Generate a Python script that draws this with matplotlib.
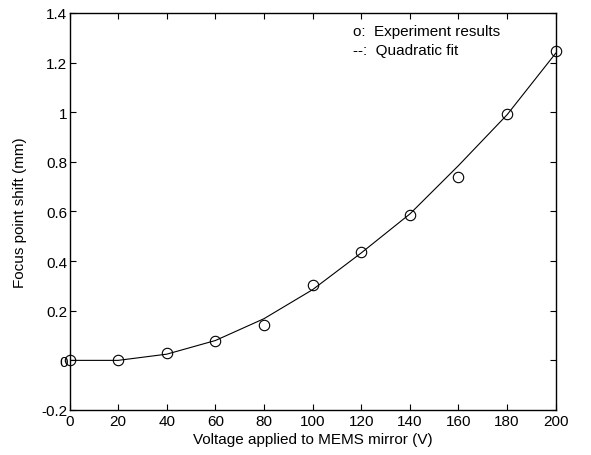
import matplotlib
matplotlib.use('Agg')
import matplotlib.pyplot as plt

plt.rcParams['font.family'] = ['Liberation Sans', 'DejaVu Sans']

voltage = [0, 20, 40, 60, 80, 100, 120, 140, 160, 180, 200]
shift_exp = [0.0, 0.0, 0.028, 0.080, 0.141, 0.305, 0.437, 0.587, 0.739, 0.994, 1.247]
# quadratic fit evaluated at the same voltages
shift_fit = [0.0, 0.0, 0.025, 0.080, 0.168, 0.285, 0.433, 0.590, 0.785, 0.990, 1.238]

x_ticks = [0, 20, 40, 60, 80, 100, 120, 140, 160, 180, 200]
y_ticks = [-0.2, 0, 0.2, 0.4, 0.6, 0.8, 1.0, 1.2, 1.4]
y_tick_labels = ['-0.2', '0', '0.2', '0.4', '0.6', '0.8', '1', '1.2', '1.4']

fig = plt.figure(figsize=(5.91, 4.56), dpi=100)
ax = fig.add_axes([0.1176, 0.0987, 0.8227, 0.8706])

ax.plot(voltage, shift_fit, '-', color='black', linewidth=0.8)
ax.plot(voltage, shift_exp, 'o', markerfacecolor='none', markeredgecolor='black',
        markersize=7.5, markeredgewidth=0.8, clip_on=False)

ax.set_xlim(0, 200)
ax.set_ylim(-0.2, 1.4)
ax.set_xticks(x_ticks)
ax.set_yticks(y_ticks)
ax.set_yticklabels(y_tick_labels)
ax.tick_params(direction='in', top=True, right=True, length=4, width=0.8,
               labelsize=11, pad=3)
ax.tick_params(axis='y', pad=1.5)
for s in ax.spines.values():
    s.set_linewidth(1.0)

ax.set_xlabel('Voltage applied to MEMS mirror (V)', fontsize=11, labelpad=3)
ax.set_ylabel('Focus point shift (mm)', fontsize=11, labelpad=10)

ax.text(0.584, 0.955, 'o:  Experiment results', transform=ax.transAxes,
        fontsize=11, va='center', ha='left')
ax.text(0.584, 0.906, '--:  Quadratic fit', transform=ax.transAxes,
        fontsize=11, va='center', ha='left')

fig.savefig('out.png', dpi=100)
